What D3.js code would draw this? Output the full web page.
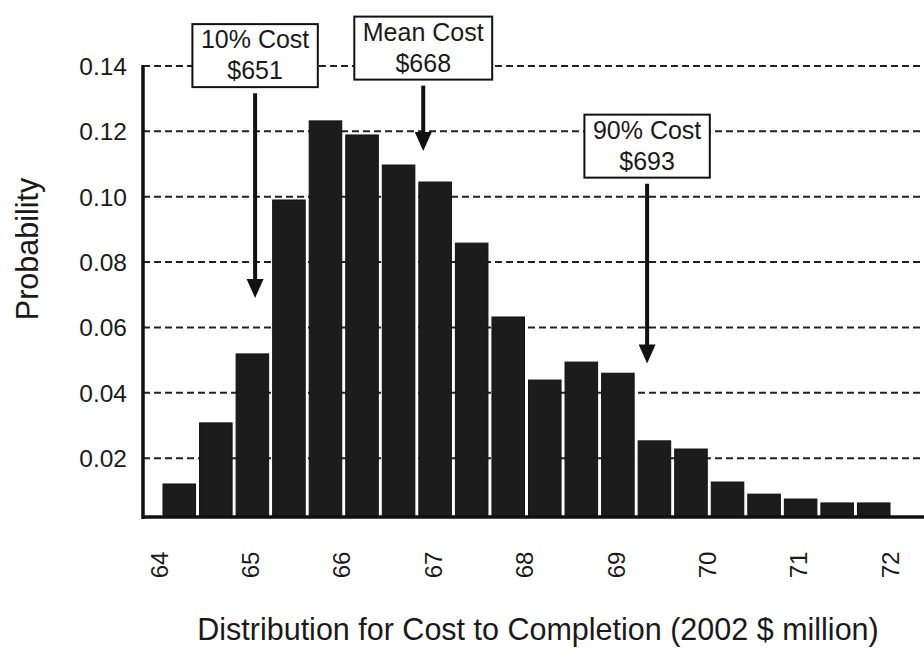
<!DOCTYPE html>
<html>
<head>
<meta charset="utf-8">
<script src="https://cdn.jsdelivr.net/npm/d3@7"></script>
<style>
  html, body { margin: 0; padding: 0; background: #ffffff; }
  svg { display: block; }
  text { font-family: "Liberation Sans", Arial, Helvetica, sans-serif; fill: #1a1a1a; }
</style>
</head>
<body>
<svg id="chart" width="924" height="649"></svg>
<script>
// ---- Data ----
const binStarts = [64.0, 64.4, 64.8, 65.2, 65.6, 66.0, 66.4, 66.8, 67.2, 67.6,
                   68.0, 68.4, 68.8, 69.2, 69.6, 70.0, 70.4, 70.8, 71.2, 71.6];
const probabilities = [0.0121, 0.0308, 0.0519, 0.0990, 0.1232, 0.1189, 0.1097, 0.1045, 0.0858, 0.0632,
                       0.0439, 0.0494, 0.0460, 0.0253, 0.0228, 0.0127, 0.0090, 0.0075, 0.0063, 0.0063];
const binWidth = 0.4;
const xTicks = [64, 65, 66, 67, 68, 69, 70, 71, 72];
const yTicks = [0.02, 0.04, 0.06, 0.08, 0.10, 0.12, 0.14];
const annLine1 = ["10% Cost", "Mean Cost", "90% Cost"];
const annLine2 = ["$651", "$668", "$693"];
const annX = [65.03, 66.87, 69.32];       // arrow position on cost axis
const annTop = [0.1317, 0.1340, 0.1040];  // arrow start (probability units)
const annTip = [0.0690, 0.1140, 0.0490];  // arrow tip (probability units)
const xTitle = "Distribution for Cost to Completion (2002 $ million)";
const yTitle = "Probability";

// ---- Layout ----
const svg = d3.select("#chart");
const axisX = 143, axisY = 517, rightEdge = 924, topY = 66;
const x = d3.scaleLinear().domain([64, 72]).range([161, 892]);
const y = d3.scaleLinear().domain([0.002, 0.14]).range([axisY, topY]);

// gridlines
svg.append("g").selectAll("line").data(yTicks).join("line")
  .attr("x1", axisX).attr("x2", rightEdge)
  .attr("y1", d => y(d)).attr("y2", d => y(d))
  .attr("stroke", "#222").attr("stroke-width", 2)
  .attr("stroke-dasharray", "7,4");

// bars
svg.append("g").selectAll("rect").data(binStarts).join("rect")
  .attr("x", d => x(d) + 2)
  .attr("width", d => x(d + binWidth) - x(d) - 4)
  .attr("y", (d, i) => y(probabilities[i]))
  .attr("height", (d, i) => axisY - y(probabilities[i]))
  .attr("fill", "#1c1c1c")
  .attr("stroke", "#111").attr("stroke-width", 1);

// axes lines
svg.append("line").attr("x1", axisX).attr("x2", axisX).attr("y1", topY - 1).attr("y2", axisY + 2)
  .attr("stroke", "#111").attr("stroke-width", 3.5);
svg.append("line").attr("x1", axisX).attr("x2", rightEdge).attr("y1", axisY).attr("y2", axisY)
  .attr("stroke", "#111").attr("stroke-width", 3.5);

// y tick labels
svg.append("g").selectAll("text").data(yTicks).join("text")
  .attr("x", 127).attr("y", d => y(d))
  .attr("dy", "0.36em")
  .attr("text-anchor", "end")
  .attr("font-size", 24.5)
  .text(d => d3.format(".2f")(d));

// x tick labels (rotated)
svg.append("g").selectAll("text").data(xTicks).join("text")
  .attr("transform", d => `translate(${x(d) - 2},565) rotate(-90)`)
  .attr("text-anchor", "middle")
  .attr("dy", "0.36em")
  .attr("font-size", 24)
  .text(d => d);

// axis titles
svg.append("text")
  .attr("x", 538).attr("y", 640)
  .attr("text-anchor", "middle")
  .attr("font-size", 30.5)
  .text(xTitle);
svg.append("text")
  .attr("transform", "translate(38,249) rotate(-90)")
  .attr("text-anchor", "middle")
  .attr("font-size", 30.5)
  .text(yTitle);

// annotations
const ann = svg.append("g");
annX.forEach((v, i) => {
  const cx = x(v);
  const yStart = y(annTop[i]);
  const yTip = y(annTip[i]);
  const boxBottom = yStart - 6;
  const boxH = 63;
  const boxTop = boxBottom - boxH;
  const g = ann.append("g");
  const rect = g.append("rect").attr("fill", "#fff").attr("stroke", "#111").attr("stroke-width", 2);
  const t1 = g.append("text").attr("x", cx).attr("y", boxTop + 24)
    .attr("text-anchor", "middle").attr("font-size", 25).text(annLine1[i]);
  g.append("text").attr("x", cx).attr("y", boxTop + 55)
    .attr("text-anchor", "middle").attr("font-size", 25).text(annLine2[i]);
  const w = t1.node().getComputedTextLength() + 17;
  rect.attr("x", cx - w / 2).attr("y", boxTop).attr("width", w).attr("height", boxH);
  // arrow shaft
  g.append("line").attr("x1", cx).attr("x2", cx).attr("y1", yStart).attr("y2", yTip - 15)
    .attr("stroke", "#111").attr("stroke-width", 4);
  // arrow head
  g.append("path")
    .attr("d", `M${cx - 8.5},${yTip - 19} L${cx + 8.5},${yTip - 19} L${cx},${yTip} Z`)
    .attr("fill", "#111");
});
</script>
</body>
</html>
